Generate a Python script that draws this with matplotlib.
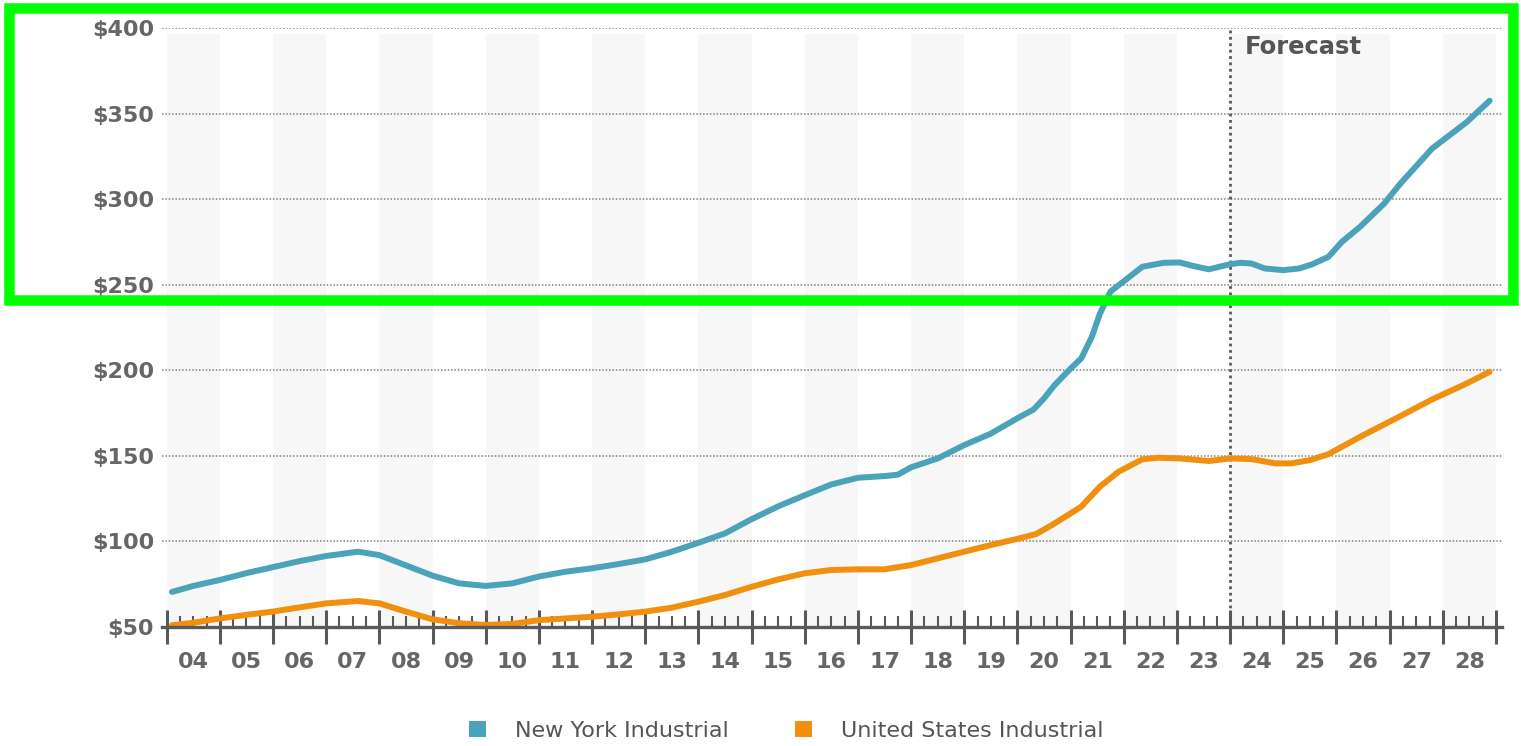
import numpy as np
import matplotlib.pyplot as plt
from matplotlib.patches import Rectangle, Patch
from matplotlib.ticker import FixedLocator, FuncFormatter

# quarterly-ish readings, $ per sq ft
ny_t = [2004.1, 2004.5, 2005.0, 2005.57, 2006.0, 2006.5, 2007.0, 2007.6, 2008.0, 2008.5,
        2009.0, 2009.5, 2010.0, 2010.5, 2011.0, 2011.5, 2012.0, 2012.5, 2013.0, 2013.5,
        2014.0, 2014.5, 2015.0, 2015.5, 2016.0, 2016.5, 2017.0, 2017.5, 2017.75, 2018.0,
        2018.5, 2019.0, 2019.5, 2020.0, 2020.3, 2020.5, 2020.7, 2021.0, 2021.2, 2021.4,
        2021.55, 2021.75, 2022.0, 2022.35, 2022.75, 2023.05, 2023.3, 2023.6, 2024.0, 2024.2,
        2024.4, 2024.65, 2025.0, 2025.3, 2025.55, 2025.85, 2026.1, 2026.45, 2026.9, 2027.2,
        2027.8, 2028.45, 2028.88]
ny_v = [70.5, 74, 77.5, 82, 85, 88.5, 91.5, 94, 92, 86,
        80, 75.5, 74, 75.5, 79.5, 82.3, 84.3, 86.8, 89.5, 94,
        99.2, 104.7, 113, 120.5, 127, 133.3, 137.2, 138.2, 139, 143.3,
        148.5, 156.3, 163, 172, 177, 183.6, 191.4, 201, 207, 219.6,
        233, 246, 252, 260.5, 262.8, 263, 261, 259, 262, 262.8,
        262.4, 259.5, 258.5, 259.5, 262, 266.3, 275, 284, 297.5, 309,
        329.6, 345, 357.5]

us_t = [2004.1, 2004.5, 2005.0, 2005.57, 2006.0, 2006.5, 2007.0, 2007.6, 2008.0, 2008.5,
        2009.0, 2009.5, 2010.0, 2010.5, 2011.0, 2011.5, 2012.0, 2012.5, 2013.0, 2013.5,
        2014.0, 2014.5, 2015.0, 2015.5, 2016.0, 2016.5, 2017.0, 2017.5, 2018.0, 2018.5,
        2019.0, 2019.5, 2020.0, 2020.35, 2020.65, 2021.0, 2021.2, 2021.55, 2021.9, 2022.35,
        2022.65, 2023.05, 2023.6, 2024.0, 2024.4, 2024.85, 2025.15, 2025.5, 2025.85, 2026.45,
        2027.2, 2027.8, 2028.45, 2028.88]
us_v = [51, 52.5, 55, 57.4, 59, 61.5, 63.8, 65.2, 63.8, 59,
        54.5, 52.2, 51.2, 51.8, 54, 55, 56, 57.4, 59, 61.3,
        64.8, 68.7, 73.5, 77.8, 81.4, 83.3, 83.7, 83.7, 86.2, 90.1,
        94, 97.9, 101.5, 104.3, 109.6, 116.4, 120.3, 132, 140.7, 148,
        148.9, 148.5, 147, 148.5, 148.1, 145.6, 145.6, 147.5, 151, 161.2,
        173.2, 183, 192.3, 199.1]

years = list(range(2004, 2029))
year_labels = ["%02d" % (y % 100) for y in years]
y_ticks = [50, 100, 150, 200, 250, 300, 350, 400]
forecast_start = 2024

TEAL = "#4aa3b8"
ORANGE = "#f0900e"
DARK = "#595959"
GRAY = "#666666"

plt.rcParams['font.family'] = ['DejaVu Sans']

fig = plt.figure(figsize=(15.21, 7.46), dpi=100)
ax = fig.add_axes([0.1063, 0.1595, 0.9875 - 0.1063, 0.9625 - 0.1595])

# alternating year bands
for i, y in enumerate(years):
    if i % 2 == 0:
        ax.axvspan(y, y + 1, ymin=0, ymax=0.99, color="#f7f7f7", zorder=0, lw=0)

for v in y_ticks[1:]:
    ax.axhline(v, color="#808080", ls=(0, (1, 1.2)), lw=1.1, zorder=1)

ax.axvline(forecast_start, color=DARK, ls=(0, (1, 1.3)), lw=2, zorder=2)
ax.text(forecast_start + 0.28, 389, "Forecast", fontsize=17.5, fontweight="bold",
        color="#555555", va="center", ha="left")

ax.plot(ny_t, ny_v, color=TEAL, lw=4.3, solid_joinstyle="round", solid_capstyle="round", zorder=4)
ax.plot(us_t, us_v, color=ORANGE, lw=4.3, solid_joinstyle="round", solid_capstyle="round", zorder=4)

ax.set_xlim(2004 - 5 / 53.17, 2029 + 6 / 53.17)
ax.set_ylim(50, 400)

for s in ["top", "right", "left"]:
    ax.spines[s].set_visible(False)
ax.spines["bottom"].set_color(DARK)
ax.spines["bottom"].set_linewidth(2.4)
ax.spines["bottom"].set_zorder(5)

ax.xaxis.set_major_locator(FixedLocator(years + [2029]))
ax.xaxis.set_minor_locator(FixedLocator([y + q / 4 for y in years for q in (1, 2, 3)]))
ax.tick_params(axis="x", which="major", direction="inout", length=24.5, width=2.2,
               color=DARK, labelbottom=False)
ax.tick_params(axis="x", which="minor", direction="in", length=8, width=1.5, color=DARK)

ax.yaxis.set_major_locator(FixedLocator(y_ticks))
ax.yaxis.set_major_formatter(FuncFormatter(lambda v, p: "$%d" % v))
ax.tick_params(axis="y", length=0, pad=5.5, labelsize=16, labelcolor=GRAY)
for lab in ax.get_yticklabels():
    lab.set_fontweight("bold")

for y, lab in zip(years, year_labels):
    ax.annotate(lab, xy=(y + 0.5, 0), xycoords=("data", "axes fraction"),
                xytext=(0, -35), textcoords="offset pixels", ha="center", va="center",
                fontsize=16, fontweight="bold", color=GRAY, annotation_clip=False)

handles = [Patch(facecolor=TEAL, edgecolor="none"), Patch(facecolor=ORANGE, edgecolor="none")]
fig.legend(handles, ["New York Industrial", "United States Industrial"], loc="center",
           bbox_to_anchor=(0.517, (746 - 731) / 746), ncol=2, frameon=False,
           handlelength=0.75, handleheight=0.75, handletextpad=1.3, columnspacing=3.0,
           prop={"size": 16}, labelcolor="#555555")

# highlight frame
W, H = 1521, 746
lw_px = 10.5
fig.patches.append(Rectangle(((4 + lw_px / 2) / W, (H - 305 + lw_px / 2) / H),
                             (1518 - 4 - lw_px) / W, (305 - 3 - lw_px) / H,
                             transform=fig.transFigure, fill=False, edgecolor="#00ff00",
                             lw=lw_px * 0.72, zorder=10))

fig.savefig("out.png", dpi=100)
